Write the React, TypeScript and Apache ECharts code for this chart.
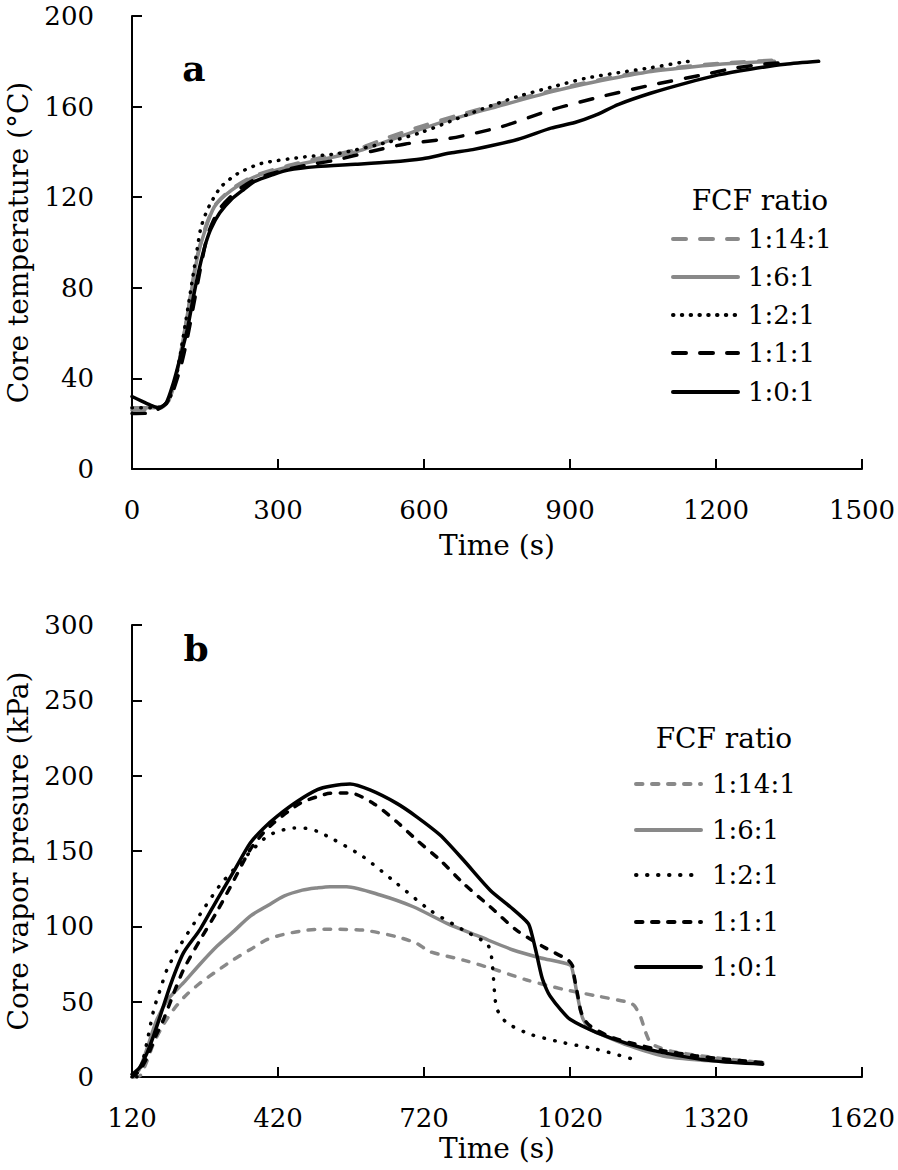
import React, { useEffect, useRef } from "react";
import * as echarts from "echarts";

// ---------- data ----------
const seriesNames = ["1:14:1", "1:6:1", "1:2:1", "1:1:1", "1:0:1"];
const legendTitle = "FCF ratio";

// Panel a: core temperature (°C) vs time (s)
const tempAxisX = { min: 0, max: 1500, interval: 300 };
const tempAxisY = { min: 0, max: 200, interval: 40 };

const temp_1_14_1: number[][] = [
  [0, 26], [40, 26.5], [60, 27], [75, 30], [90, 40], [105, 57], [120, 76], [133, 93], [148, 105],
  [169, 116], [204, 123.5], [252, 129.5], [321, 134], [390, 137.5], [459, 141], [528, 146.5],
  [597, 151.5], [666, 156], [750, 161], [861, 167], [930, 170.5], [1000, 173.5], [1067, 176],
  [1150, 178], [1230, 179.5], [1320, 180.5],
];
const temp_1_6_1: number[][] = [
  [0, 27], [40, 27], [60, 27.5], [75, 30], [90, 40], [105, 57], [120, 76], [133, 92], [148, 104],
  [169, 115.7], [204, 123], [252, 129], [321, 133.4], [390, 136.6], [459, 140], [528, 145],
  [597, 150.3], [666, 155], [750, 160], [861, 166.5], [930, 170], [1000, 173], [1067, 175.5],
  [1150, 177.5], [1230, 179], [1320, 180],
];
const temp_1_2_1: number[][] = [
  [0, 27], [40, 27], [60, 27.5], [75, 30], [90, 40], [105, 58], [120, 78], [131, 93], [141, 106],
  [152, 113], [162, 117.5], [183, 124.6], [217, 130.4], [266, 134.9], [355, 137.8], [424, 139.3],
  [528, 144.4], [597, 148.8], [654, 153.5], [720, 159], [792, 164.4], [860, 168.5], [930, 172.4],
  [1000, 175], [1067, 177.2], [1136, 179.8], [1145, 180],
];
const temp_1_1_1: number[][] = [
  [0, 24.5], [30, 24.6], [50, 26], [65, 28], [80, 32], [100, 45], [114, 58], [128, 74], [142, 90],
  [155, 103], [168, 110], [183, 115.7], [217, 123], [250, 127.5], [286, 130.4], [355, 134],
  [417, 136.3], [493, 140.3], [562, 143.5], [654, 146], [757, 151], [861, 158.5], [964, 164.4],
  [1067, 169.5], [1170, 173.9], [1239, 177], [1300, 178.8], [1350, 179.6],
];
const temp_1_0_1: number[][] = [
  [0, 32], [20, 30], [40, 28], [55, 27], [70, 29], [85, 38], [100, 50], [114, 62], [128, 78],
  [141, 91], [152, 100], [162, 106], [180, 113], [204, 119], [230, 123.5], [252, 127], [290, 130],
  [321, 132], [380, 133.5], [459, 134.5], [530, 135.5], [597, 137], [654, 139.5], [700, 141],
  [792, 145.5], [861, 150.5], [910, 153], [950, 156], [1000, 161], [1067, 166], [1140, 170.5],
  [1205, 174], [1270, 176.5], [1342, 178.7], [1411, 180],
];

// Panel b: core vapor pressure (kPa) vs time (s)
const presAxisX = { min: 120, max: 1620, interval: 300 };
const presAxisY = { min: 0, max: 300, interval: 50 };

const pres_1_14_1: number[][] = [
  [125, 0], [137, 1], [150, 10], [165, 22.8], [185, 35], [206, 45], [230, 54], [261, 62.6],
  [295, 70.5], [329, 78], [365, 85], [398, 91.3], [430, 94.5], [466, 96.8], [500, 98], [534, 98],
  [595, 97.5], [664, 93.1], [705, 88.7], [732, 83.2], [801, 77.6], [869, 71], [931, 64.4],
  [1006, 58.2], [1075, 53.8], [1143, 49.3], [1153, 47], [1165, 40], [1175, 30], [1185, 23],
  [1200, 20], [1230, 17], [1314, 13], [1416, 9.6],
];
const pres_1_6_1: number[][] = [
  [122, 0], [135, 5], [150, 18], [171, 38], [195, 52], [226, 62.6], [260, 75], [295, 86.9],
  [330, 97], [363, 106.8], [400, 114], [432, 120], [470, 124], [501, 125.5], [527, 126.3],
  [561, 126.3], [630, 120.8], [698, 113], [767, 102], [835, 93.1], [903, 84.3], [960, 79],
  [1020, 74.3], [1027, 68], [1034, 56], [1041, 45], [1047, 38.3], [1060, 32], [1075, 29.5],
  [1143, 20.6], [1211, 14], [1314, 10.7], [1416, 9.6],
];
const pres_1_2_1: number[][] = [
  [130, 0], [140, 8], [150, 22], [165, 45], [180, 60], [192, 71.4], [220, 88], [260, 108],
  [300, 127], [329, 137.7], [365, 150], [398, 159.8], [425, 163.5], [453, 165.3], [480, 165],
  [501, 163], [534, 157.7], [595, 146.2], [664, 128.5], [732, 110.8], [801, 97.5], [849, 88.7],
  [856, 84], [859, 79], [862, 69], [865, 56], [870, 45], [890, 36], [938, 28.4], [1006, 22.8],
  [1075, 18.4], [1150, 11.8],
];
const pres_1_1_1: number[][] = [
  [120, 0], [135, 4], [151, 13], [170, 28], [185, 38.3], [205, 55], [226, 71.4], [260, 91],
  [295, 110], [330, 131], [363, 151], [390, 162], [411, 168.6], [440, 176], [466, 181.8],
  [500, 186], [527, 188.3], [568, 188.5], [616, 181.6], [664, 169.4], [705, 157.3], [753, 144],
  [801, 128.5], [856, 113], [910, 97.5], [965, 86.5], [1016, 77.6], [1025, 74], [1029, 66],
  [1036, 54], [1042, 44], [1050, 38], [1061, 34], [1100, 27], [1143, 22.8], [1211, 17.5],
  [1280, 14], [1350, 11.5], [1416, 9.6],
];
const pres_1_0_1: number[][] = [
  [120, 1.8], [135, 6], [151, 16], [165, 28], [178, 40.5], [200, 62], [226, 82.5], [260, 98],
  [295, 117.8], [330, 137], [363, 155.3], [390, 165], [418, 173], [460, 183], [501, 190.7],
  [527, 193], [568, 194.4], [609, 190.5], [664, 181.6], [705, 172.7], [753, 160.6], [801, 144],
  [856, 124], [897, 113], [934, 102], [941, 95.5], [951, 82.2], [962, 66.6], [972, 58],
  [979, 53.8], [1000, 45], [1020, 38.3], [1075, 29.5], [1143, 21.7], [1211, 16.2], [1314, 10.7],
  [1416, 8.5],
];

const tempData = [temp_1_14_1, temp_1_6_1, temp_1_2_1, temp_1_1_1, temp_1_0_1];
const presData = [pres_1_14_1, pres_1_6_1, pres_1_2_1, pres_1_1_1, pres_1_0_1];

// ---------- styles ----------
const FONT = "DejaVu Serif";
const GRAY = "#898989";
const BLACK = "#000000";
const LW = 3.5;
const colors = [GRAY, GRAY, BLACK, BLACK, BLACK];
const dashA: (number[] | null)[] = [[13, 14], null, [0.5, 8.3], [13, 14], null];
const dashB: (number[] | null)[] = [[6.5, 9.5], null, [0.5, 10.5], [6.5, 9.5], null];

function makeAxis(r: { min: number; max: number; interval: number }, gridIndex: number, isX: boolean, name: string, nameGap: number) {
  return {
    type: "value",
    gridIndex,
    min: r.min,
    max: r.max,
    interval: r.interval,
    name,
    nameLocation: "middle",
    nameGap,
    nameTextStyle: { fontFamily: FONT, fontSize: 28, color: BLACK },
    axisLine: { show: true, onZero: false, lineStyle: { color: BLACK, width: 2 } },
    axisTick: { show: true, inside: true, length: 10, lineStyle: { color: BLACK, width: 2 } },
    axisLabel: {
      fontFamily: FONT,
      fontSize: 26,
      color: BLACK,
      margin: isX ? 28 : 38,
      formatter: (v: number) => String(v),
    },
    splitLine: { show: false },
  };
}

function legendGroup(x0: number, x1: number, textX: number, titleRight: number, titleY: number, rows: number[], dashes: (number[] | null)[]) {
  const children: any[] = [
    {
      type: "text",
      x: titleRight,
      y: titleY,
      style: { text: legendTitle, font: `28px '${FONT}'`, fill: BLACK, align: "right", verticalAlign: "middle" },
    },
  ];
  seriesNames.forEach((n, i) => {
    children.push({
      type: "line",
      shape: { x1: x0, y1: rows[i], x2: x1, y2: rows[i] },
      style: { stroke: colors[i], lineWidth: 4, lineCap: "round", lineDash: dashes[i] || undefined },
    });
    children.push({
      type: "text",
      x: textX,
      y: rows[i],
      style: { text: n, font: `26px '${FONT}'`, fill: BLACK, align: "left", verticalAlign: "middle" },
    });
  });
  return { type: "group", children };
}

export default function App() {
  const ref = useRef<HTMLDivElement>(null);
  useEffect(() => {
    document.body.style.margin = "0";
    if (!ref.current) return;
    const chart = echarts.init(ref.current, undefined, { renderer: "svg" });
    const series: any[] = [];
    seriesNames.forEach((n, i) => {
      series.push({
        type: "line",
        name: n,
        xAxisIndex: 0,
        yAxisIndex: 0,
        data: tempData[i],
        showSymbol: false,
        symbol: "none",
        smooth: 0.25,
        lineStyle: { color: colors[i], width: LW, type: dashA[i] || "solid", cap: "round", join: "round" },
      });
      series.push({
        type: "line",
        name: n,
        xAxisIndex: 1,
        yAxisIndex: 1,
        data: presData[i],
        showSymbol: false,
        symbol: "none",
        smooth: 0.25,
        lineStyle: { color: colors[i], width: LW, type: dashB[i] || "solid", cap: "round", join: "round" },
      });
    });
    chart.setOption({
      animation: false,
      backgroundColor: "#ffffff",
      textStyle: { fontFamily: FONT },
      grid: [
        { left: 132, top: 16, width: 730, height: 453, outerBoundsMode: "none" },
        { left: 132, top: 625, width: 730, height: 452, outerBoundsMode: "none" },
      ],
      xAxis: [
        makeAxis(tempAxisX, 0, true, "Time (s)", 62),
        makeAxis(presAxisX, 1, true, "Time (s)", 57),
      ],
      yAxis: [
        makeAxis(tempAxisY, 0, false, "Core temperature (°C)", 100),
        makeAxis(presAxisY, 1, false, "Core vapor presure (kPa)", 100),
      ],
      series,
      graphic: [
        { type: "text", x: 194, y: 68, style: { text: "a", font: `bold 36px '${FONT}'`, fill: BLACK, align: "center", verticalAlign: "middle" } },
        { type: "text", x: 196, y: 648, style: { text: "b", font: `bold 36px '${FONT}'`, fill: BLACK, align: "center", verticalAlign: "middle" } },
        legendGroup(673, 738, 748, 828, 200, [239, 277, 315, 353, 392], dashA),
        legendGroup(636, 701, 712, 792, 738, [784, 830, 875, 922, 967], dashB),
      ],
    });
    return () => chart.dispose();
  }, []);
  return <div ref={ref} style={{ width: 898, height: 1170 }} />;
}
